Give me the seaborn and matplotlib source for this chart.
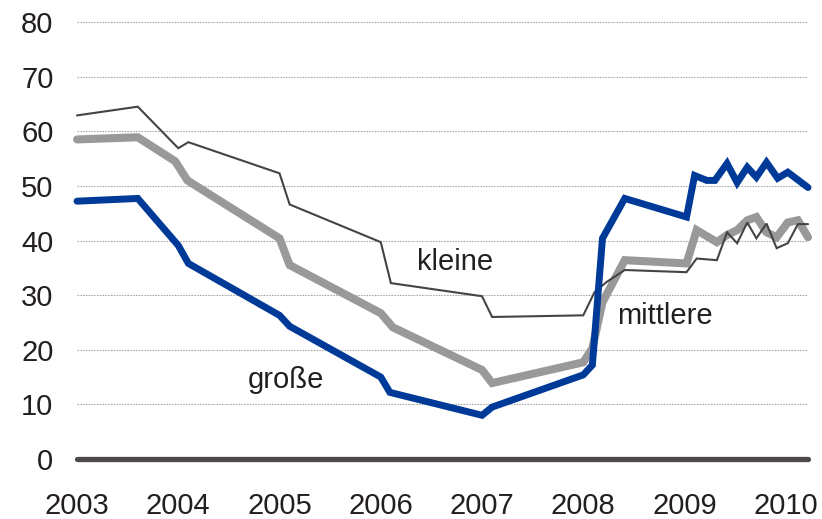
import pandas as pd
import matplotlib.pyplot as plt
import seaborn as sns

# Werte (x = Jahr als Dezimalzahl)
kleine_x = [2003.0, 2003.6, 2004.0, 2004.1, 2005.0, 2005.1, 2006.0, 2006.1, 2007.0, 2007.1,
            2008.0, 2008.11, 2008.23, 2008.41, 2009.02, 2009.12, 2009.32, 2009.42, 2009.52,
            2009.62, 2009.71, 2009.81, 2009.91, 2010.02, 2010.12, 2010.22]
kleine_y = [62.9, 64.5, 56.9, 58.0, 52.3, 46.6, 39.7, 32.2, 29.8, 26.0,
            26.3, 30.5, 32.4, 34.6, 34.2, 36.7, 36.4, 41.5, 39.5,
            43.3, 40.4, 43.1, 38.6, 39.5, 43.0, 43.0]

mittlere_x = [2003.0, 2003.6, 2003.97, 2004.09, 2005.0, 2005.1, 2006.0, 2006.12, 2007.0, 2007.1,
              2008.0, 2008.09, 2008.19, 2008.41, 2009.02, 2009.12, 2009.32, 2009.42, 2009.52,
              2009.62, 2009.71, 2009.81, 2009.91, 2010.02, 2010.12, 2010.22]
mittlere_y = [58.5, 58.9, 54.5, 51.0, 40.4, 35.5, 26.7, 24.1, 16.3, 13.9,
              17.7, 20.3, 28.7, 36.4, 35.8, 41.9, 39.7, 41.0, 41.9,
              43.7, 44.3, 41.5, 40.6, 43.3, 43.7, 40.6]

grosse_x = [2003.0, 2003.6, 2004.0, 2004.1, 2005.0, 2005.1, 2006.0, 2006.09, 2007.0, 2007.1,
            2008.0, 2008.09, 2008.19, 2008.41, 2009.02, 2009.1, 2009.22, 2009.3, 2009.42,
            2009.52, 2009.62, 2009.71, 2009.81, 2009.92, 2010.02, 2010.22]
grosse_y = [47.2, 47.7, 39.1, 35.8, 26.3, 24.3, 15.0, 12.2, 8.0, 9.5,
            15.4, 17.2, 40.4, 47.7, 44.3, 51.9, 51.0, 51.0, 54.1,
            50.6, 53.4, 51.6, 54.3, 51.4, 52.5, 49.7]

years = [2003, 2004, 2005, 2006, 2007, 2008, 2009, 2010]
yticks = [0, 10, 20, 30, 40, 50, 60, 70, 80]

sns.set_style("white")
plt.rcParams['font.family'] = ['Liberation Sans', 'DejaVu Sans']

fig = plt.figure(figsize=(8.22, 5.19), dpi=100)
ax = fig.add_axes([0.0937, 0.1156, 0.8893, 0.842])

for xs, ys, col, lw in [(mittlere_x, mittlere_y, "#999999", 5.8),
                        (kleine_x, kleine_y, "#444444", 1.5),
                        (grosse_x, grosse_y, "#003a99", 5.0)]:
    df = pd.DataFrame({"x": xs, "y": ys})
    sns.lineplot(data=df, x="x", y="y", ax=ax, color=col, linewidth=lw,
                 solid_joinstyle="miter", clip_on=False)

for v in yticks[1:]:
    ax.axhline(v, color="#aaaaaa", linewidth=0.8, linestyle=(0, (1.5, 1)), zorder=0)
ax.axhline(0, color="#4d4949", linewidth=3.8, clip_on=False, zorder=5)

ax.set_xlim(2003, 2010.22)
ax.set_ylim(0, 80)
ax.set_xticks(years)
ax.set_yticks(yticks)
ax.tick_params(axis="y", length=0, pad=17, labelsize=21, labelcolor="#231f20")
ax.tick_params(axis="x", length=0, pad=24, labelsize=21, labelcolor="#231f20")
ax.set_xlabel("")
ax.set_ylabel("")
for s in ax.spines.values():
    s.set_visible(False)

ax.text(2006.73, 36.0, "kleine", fontsize=21, color="#231f20", ha="center", va="center")
ax.text(2008.81, 26.1, "mittlere", fontsize=21, color="#231f20", ha="center", va="center")
ax.text(2005.06, 14.4, "große", fontsize=21, color="#231f20", ha="center", va="center")

fig.savefig("out.png", dpi=100)
